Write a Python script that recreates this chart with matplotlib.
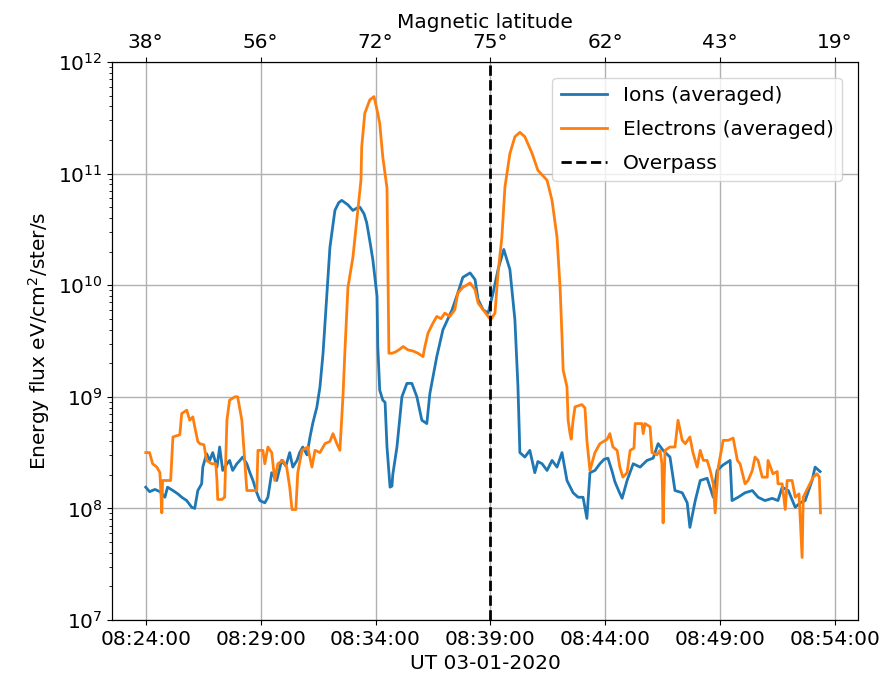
import numpy as np
import matplotlib
matplotlib.use("Agg")
import matplotlib.pyplot as plt

# time in seconds after 08:24:00 UT, values as log10(energy flux)
ion_t = [0, 10, 24, 37, 50, 57, 71, 84, 94, 107, 120, 128, 136, 146, 149, 159, 167, 175, 186, 193,
         201, 212, 219, 227, 238, 246, 253, 264, 272, 280, 290, 298, 311, 319, 329, 342, 355, 366, 376, 384,
         395, 402, 410, 421, 429, 436, 447, 455, 463, 468, 473, 481, 494, 504, 512, 520, 528, 541, 551, 559,
         570, 577, 585, 593, 604, 606, 611, 619, 625, 630, 638, 643, 645, 656, 669, 682, 695, 708, 721, 734,
         742, 760, 776, 800, 815, 828, 847, 860, 868, 881, 894, 907, 920, 935, 951, 964, 972, 977, 990, 1003,
         1016, 1024, 1035, 1048, 1061, 1074, 1087, 1100, 1116, 1129, 1142, 1152, 1160, 1173, 1186, 1197, 1207, 1218, 1225, 1236,
         1244, 1257, 1273, 1291, 1309, 1325, 1338, 1351, 1369, 1382, 1401, 1414, 1421, 1435, 1448, 1466, 1482, 1492, 1508, 1526,
         1531, 1547, 1565, 1584, 1599, 1617, 1636, 1651, 1662, 1678, 1696, 1709, 1722, 1740, 1748, 1761]
ion_log = [8.19, 8.15, 8.17, 8.15, 8.10, 8.19, 8.16, 8.13, 8.10, 8.07, 8.01, 8.00, 8.16, 8.22, 8.37, 8.49, 8.43, 8.50, 8.37, 8.55,
           8.34, 8.40, 8.43, 8.34, 8.40, 8.43, 8.46, 8.40, 8.32, 8.25, 8.14, 8.07, 8.05, 8.10, 8.32, 8.25, 8.43, 8.38, 8.50, 8.37,
           8.43, 8.50, 8.55, 8.48, 8.64, 8.76, 8.91, 9.09, 9.39, 9.65, 9.90, 10.34, 10.67, 10.74, 10.76, 10.74, 10.72, 10.67, 10.69, 10.70,
           10.64, 10.56, 10.40, 10.23, 9.90, 9.45, 9.06, 8.97, 8.95, 8.55, 8.19, 8.20, 8.30, 8.55, 9.00, 9.12, 9.12, 9.00, 8.79, 8.76,
           9.03, 9.36, 9.60, 9.78, 9.93, 10.07, 10.11, 10.05, 9.87, 9.78, 9.75, 9.93, 10.14, 10.32, 10.14, 9.69, 9.09, 8.50, 8.46, 8.52,
           8.32, 8.42, 8.40, 8.34, 8.43, 8.37, 8.50, 8.25, 8.14, 8.10, 8.10, 7.91, 8.32, 8.34, 8.40, 8.44, 8.45, 8.33, 8.24, 8.15,
           8.09, 8.25, 8.40, 8.37, 8.43, 8.45, 8.58, 8.52, 8.46, 8.16, 8.14, 8.05, 7.83, 8.07, 8.25, 8.27, 8.10, 8.34, 8.39, 8.43,
           8.07, 8.10, 8.14, 8.16, 8.10, 8.07, 8.09, 8.07, 8.19, 8.16, 8.01, 8.05, 8.07, 8.25, 8.37, 8.33]

ele_t = [0, 10, 18, 29, 37, 42, 44, 57, 65, 71, 89, 94, 107, 115, 123, 128, 136, 141, 152, 159,
         172, 183, 186, 188, 199, 206, 212, 219, 233, 240, 251, 259, 264, 285, 290, 293, 306, 311, 319, 329,
         337, 345, 358, 368, 376, 382, 392, 397, 408, 423, 434, 442, 455, 468, 481, 489, 499, 507, 515, 520,
         528, 541, 551, 562, 564, 572, 585, 596, 606, 611, 619, 630, 632, 635, 643, 651, 661, 672, 685, 698,
         711, 724, 729, 737, 750, 760, 771, 781, 794, 807, 815, 828, 847, 860, 868, 881, 894, 901, 912, 920,
         930, 938, 951, 964, 977, 990, 1009, 1024, 1048, 1061, 1074, 1082, 1087, 1090, 1100, 1103, 1108, 1111, 1116, 1121,
         1139, 1147, 1152, 1160, 1173, 1186, 1205, 1212, 1220, 1231, 1238, 1246, 1257, 1265, 1275, 1278, 1296, 1299, 1304, 1317,
         1322, 1335, 1343, 1348, 1351, 1356, 1369, 1382, 1390, 1401, 1409, 1421, 1429, 1440, 1448, 1456, 1466, 1474, 1482, 1487,
         1495, 1508, 1521, 1534, 1545, 1552, 1565, 1573, 1584, 1591, 1599, 1610, 1623, 1625, 1638, 1649, 1651, 1662, 1670, 1675,
         1688, 1696, 1706, 1714, 1717, 1730, 1743, 1753, 1759, 1762]
ele_log = [8.50, 8.50, 8.40, 8.37, 8.32, 7.96, 8.25, 8.25, 8.25, 8.64, 8.66, 8.85, 8.88, 8.79, 8.82, 8.73, 8.60, 8.58, 8.57, 8.43,
           8.40, 8.40, 8.25, 8.08, 8.08, 8.10, 8.79, 8.97, 9.00, 9.00, 8.79, 8.40, 8.16, 8.16, 8.16, 8.52, 8.52, 8.40, 8.55, 8.50,
           8.25, 8.40, 8.43, 8.37, 8.19, 7.99, 7.99, 8.32, 8.52, 8.55, 8.37, 8.52, 8.50, 8.58, 8.60, 8.67, 8.58, 8.52, 9.00, 9.40,
           9.98, 10.25, 10.58, 10.94, 11.24, 11.54, 11.66, 11.69, 11.54, 11.45, 11.15, 10.87, 10.30, 9.39, 9.39, 9.40, 9.42, 9.45, 9.42, 9.41,
           9.39, 9.36, 9.45, 9.57, 9.66, 9.72, 9.70, 9.75, 9.72, 9.78, 9.93, 9.98, 10.02, 9.96, 9.84, 9.78, 9.72, 9.69, 9.75, 10.11,
           10.43, 10.88, 11.18, 11.33, 11.37, 11.33, 11.18, 11.03, 10.94, 10.76, 10.43, 9.98, 9.54, 9.24, 9.09, 8.79, 8.67, 8.62, 8.79, 8.91,
           8.93, 8.90, 8.61, 8.34, 8.50, 8.58, 8.62, 8.67, 8.55, 8.52, 8.37, 8.28, 8.32, 8.52, 8.54, 8.76, 8.76, 8.67, 8.76, 8.73,
           8.50, 8.48, 8.52, 8.40, 7.87, 8.52, 8.55, 8.55, 8.79, 8.61, 8.58, 8.64, 8.50, 8.37, 8.52, 8.43, 8.43, 8.34, 8.22, 7.96,
           8.37, 8.61, 8.61, 8.63, 8.43, 8.40, 8.22, 8.25, 8.34, 8.46, 8.43, 8.28, 8.28, 8.43, 8.31, 8.33, 8.22, 8.22, 7.99, 8.25,
           8.25, 8.10, 8.13, 7.56, 8.10, 8.19, 8.28, 8.31, 8.28, 7.96]

overpass_t = 900
xtick_t = [0, 300, 600, 900, 1200, 1500, 1800]
xtick_labels = ["08:24:00", "08:29:00", "08:34:00", "08:39:00", "08:44:00", "08:49:00", "08:54:00"]
mlat_labels = ["38°", "56°", "72°", "75°", "62°", "43°", "19°"]

ion_flux = 10.0 ** np.array(ion_log)
ele_flux = 10.0 ** np.array(ele_log)

fs = 14.5
plt.rcParams['font.size'] = fs
fig = plt.figure(figsize=(8.85, 6.85), dpi=100)
ax = fig.add_axes([0.1266, 0.0949, 0.8429, 0.8146])
ax.plot(ion_t, ion_flux, color='#1f77b4', lw=2, label='Ions (averaged)')
ax.plot(ele_t, ele_flux, color='#ff7f0e', lw=2, label='Electrons (averaged)')
ax.axvline(overpass_t, color='black', ls='--', lw=2, label='Overpass')
ax.set_yscale('log')
ax.set_ylim(1e7, 1e12)
ax.set_xlim(-88, 1860)
ax.set_xticks(xtick_t)
ax.set_xticklabels(xtick_labels)
ax.tick_params(labelsize=fs)
ax.grid(True, color='#b0b0b0', lw=1)
ax.set_xlabel('UT 03-01-2020', fontsize=fs)
ax.set_ylabel('Energy flux eV/cm$^2$/ster/s', fontsize=fs)
ax.legend(loc='upper right', fontsize=fs, labelspacing=0.75, handlelength=2.3,
          borderaxespad=0.8)

ax2 = ax.twiny()
ax2.set_xlim(ax.get_xlim())
ax2.set_xticks(xtick_t)
ax2.set_xticklabels(mlat_labels)
ax2.tick_params(labelsize=fs)
ax2.set_xlabel('Magnetic latitude', fontsize=fs)

fig.savefig('out.png', dpi=100)
